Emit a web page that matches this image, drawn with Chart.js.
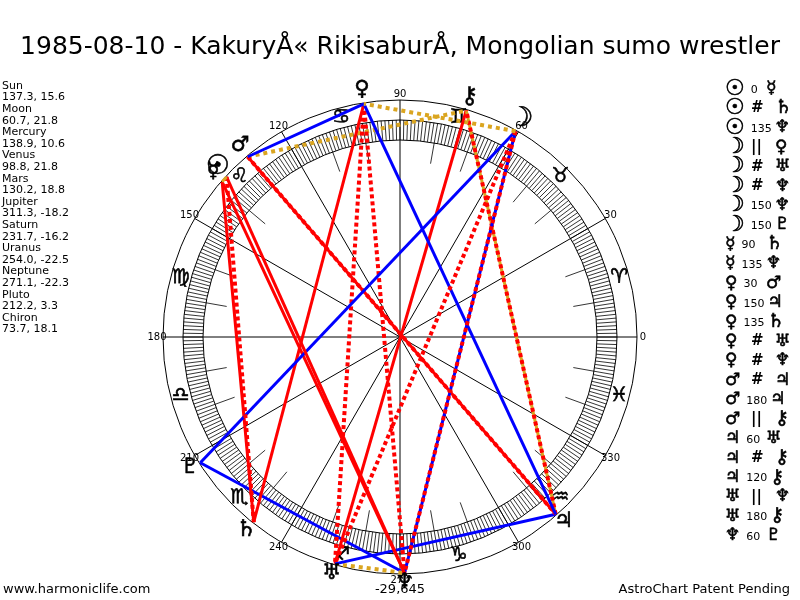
<!DOCTYPE html>
<html><head><meta charset="utf-8">
<script src="https://cdn.jsdelivr.net/npm/chart.js@4"></script>
<style>html,body{margin:0;padding:0;background:#fff;overflow:hidden}</style>
</head><body>
<canvas id="c" width="800" height="600"></canvas>
<script>
// ---------------- data ----------------
const chartTitle = '1985-08-10 - KakuryÅ« RikisaburÅ, Mongolian sumo wrestler';
const planetNames = ['Sun','Moon','Mercury','Venus','Mars','Jupiter','Saturn','Uranus','Neptune','Pluto','Chiron'];
const planetLongitudes = [137.3, 60.7, 138.9, 98.8, 130.2, 311.3, 231.7, 254.0, 271.1, 212.2, 73.7];
const planetDeclinations = [15.6, 21.8, 10.6, 21.8, 18.8, -18.2, -16.2, -22.5, -22.3, 3.3, 18.1];
const planetGlyphs = ['☉','☽','☿','♀','♂','♃','♄','♅','♆','♇','⚷'];
const aspectFrom = ['Sun','Sun','Sun','Moon','Moon','Moon','Moon','Moon','Mercury','Mercury','Venus','Venus','Venus','Venus','Venus','Mars','Mars','Mars','Jupiter','Jupiter','Jupiter','Uranus','Uranus','Neptune'];
const aspectTypes = ['0','#','135','||','#','#','150','150','90','135','30','150','135','#','#','#','180','||','60','#','120','||','180','60'];
const aspectTo = ['Mercury','Saturn','Neptune','Venus','Uranus','Neptune','Neptune','Pluto','Saturn','Neptune','Mars','Jupiter','Saturn','Uranus','Neptune','Jupiter','Jupiter','Chiron','Uranus','Chiron','Chiron','Neptune','Chiron','Pluto'];
const degreeLabels = [0,30,60,90,120,150,180,210,240,270,300,330];
const zodiacGlyphs = ['♈','♉','♊','♋','♌','♍','♎','♏','♐','♑','♒','♓'];
const centerNote = '-29,645';
const footerLeft = 'www.harmoniclife.com';
const footerRight = 'AstroChart Patent Pending';

// ---------------- geometry / style ----------------
const R_OUT = 237, R_RING_O = 217, R_RING_I = 197, R_TEN = 176;
const R_VERTEX = 236, R_PGLYPH = 248, R_ZOD = 227, R_DEG = 243;
const FONT = '"DejaVu Sans", Verdana, sans-serif';
const RED = '#ff0000', BLUE = '#0000ff', GOLD = '#daa520';
const GLYPH_SCALE = {'☉': 1.3, '☽': 1.3, '⚷': 1.1, '♄': 1.1};

function aspectStyle(t){
  if (t === '#') return {color: RED, width: 4, dash: [4,3]};
  if (t === '||') return {color: GOLD, width: 4, dash: [4,4]};
  if (t === '0' || t === '120') return {color: GOLD, width: 3, dash: []};
  if (t === '30' || t === '60' || t === '150') return {color: BLUE, width: 3, dash: []};
  return {color: RED, width: 3, dash: []};
}
function polar(r, deg){ const a = deg*Math.PI/180; return {x: r*Math.cos(a), y: r*Math.sin(a)}; }

const datasets = aspectTypes.map((t,i)=>{
  const a = planetNames.indexOf(aspectFrom[i]), b = planetNames.indexOf(aspectTo[i]);
  const st = aspectStyle(t);
  return {
    label: aspectFrom[i]+' '+t+' '+aspectTo[i],
    data: [polar(R_VERTEX, planetLongitudes[a]), polar(R_VERTEX, planetLongitudes[b])],
    showLine: true, borderColor: st.color, backgroundColor: st.color,
    borderWidth: st.width, borderDash: st.dash, borderCapStyle: 'butt',
    pointRadius: 0, pointHoverRadius: 0, fill: false, tension: 0, clip: false
  };
});

function px(chart, r, deg){
  const p = polar(r, deg);
  return [chart.scales.x.getPixelForValue(p.x), chart.scales.y.getPixelForValue(p.y)];
}
function rpx(chart, r){ return chart.scales.x.getPixelForValue(r) - chart.scales.x.getPixelForValue(0); }
function glyph(ctx, g, x, y, size){
  const s = Math.round(size * (GLYPH_SCALE[g] || 1));
  ctx.font = s + 'px ' + FONT;
  ctx.lineWidth = 0.6; ctx.strokeStyle = '#000';
  ctx.fillText(g, x, y); ctx.strokeText(g, x, y);
  return ctx.measureText(g).width;
}

const wheelPlugin = {
  id: 'wheel',
  beforeDatasetsDraw(chart){
    const ctx = chart.ctx;
    const c = px(chart, 0, 0);
    ctx.save();
    ctx.strokeStyle = '#000'; ctx.lineWidth = 1;
    [R_OUT, R_RING_O, R_RING_I].forEach(r=>{
      ctx.beginPath(); ctx.arc(c[0], c[1], rpx(chart, r), 0, Math.PI*2); ctx.stroke();
    });
    ctx.beginPath();
    ctx.lineWidth = 0.8;
    for (let d=0; d<360; d++){
      const a = px(chart, R_RING_I, d), b = px(chart, R_RING_O, d);
      ctx.moveTo(a[0],a[1]); ctx.lineTo(b[0],b[1]);
      if (d%10===0 && d%30!==0){
        const e = px(chart, R_TEN, d);
        ctx.moveTo(e[0],e[1]); ctx.lineTo(a[0],a[1]);
      }
    }
    ctx.stroke();
    ctx.beginPath();
    ctx.lineWidth = 1;
    degreeLabels.forEach(d=>{
      const e = px(chart, R_OUT, d);
      ctx.moveTo(c[0],c[1]); ctx.lineTo(e[0],e[1]);
    });
    ctx.stroke();
    ctx.fillStyle = '#000';
    ctx.textAlign = 'center'; ctx.textBaseline = 'middle';
    ctx.font = '10px ' + FONT;
    degreeLabels.forEach(d=>{
      const p = px(chart, R_DEG, d);
      ctx.fillText(String(d), p[0], p[1]);
    });
    zodiacGlyphs.forEach((g,i)=>{
      const p = px(chart, R_ZOD, i*30+15);
      glyph(ctx, g, p[0], p[1], 20);
    });
    ctx.restore();
  },
  afterDatasetsDraw(chart){
    const ctx = chart.ctx;
    ctx.save();
    ctx.fillStyle = '#000'; ctx.textBaseline = 'middle';
    // planet glyphs on wheel
    ctx.textAlign = 'center';
    planetGlyphs.forEach((g,i)=>{
      const p = px(chart, R_PGLYPH, planetLongitudes[i]);
      glyph(ctx, g, p[0], p[1]-2, 21);
    });
    // center note
    ctx.font = '13px ' + FONT;
    const cn = px(chart, 0, 0);
    ctx.fillText(centerNote, cn[0], 590);
    // left list
    ctx.textAlign = 'left';
    ctx.font = '11px ' + FONT;
    planetNames.forEach((n,i)=>{
      const y = 86 + i*2*11.6;
      ctx.fillText(n, 2, y);
      ctx.fillText(planetLongitudes[i].toFixed(1)+', '+planetDeclinations[i].toFixed(1), 2, y+11.6);
    });
    // right aspect list
    aspectTypes.forEach((t,i)=>{
      const y = 89 + i*19.43;
      const g1 = planetGlyphs[planetNames.indexOf(aspectFrom[i])];
      const g2 = planetGlyphs[planetNames.indexOf(aspectTo[i])];
      let x = 725;
      x += glyph(ctx, g1, x, y, 17) + 6;
      let x2;
      if (t === '#' || t === '||'){
        ctx.font = 'bold 15px ' + FONT;
        ctx.fillText(t, 751, y);
        x2 = 775;
      } else {
        ctx.font = '11px ' + FONT;
        ctx.fillText(t, x, y+1);
        x2 = Math.max(766, x + ctx.measureText(t).width + 3);
      }
      glyph(ctx, g2, x2, y, 17);
    });
    // footers
    ctx.font = '13px ' + FONT;
    ctx.fillText(footerLeft, 3, 590);
    ctx.textAlign = 'right';
    ctx.fillText(footerRight, 790, 590);
    ctx.restore();
  }
};

new Chart(document.getElementById('c'), {
  type: 'scatter',
  data: { datasets },
  options: {
    responsive: false, animation: false,
    layout: { padding: 0, autoPadding: false },
    scales: {
      x: { type: 'linear', min: -400, max: 400, display: false },
      y: { type: 'linear', min: -263, max: 277, display: false }
    },
    plugins: {
      legend: { display: false },
      tooltip: { enabled: false },
      title: { display: true, text: chartTitle, color: '#000',
        font: { family: 'DejaVu Sans', size: 25, weight: 'normal', lineHeight: 1 },
        padding: { top: 35, bottom: 0 } }
    },
    events: []
  },
  plugins: [wheelPlugin]
});
</script>
</body></html>
